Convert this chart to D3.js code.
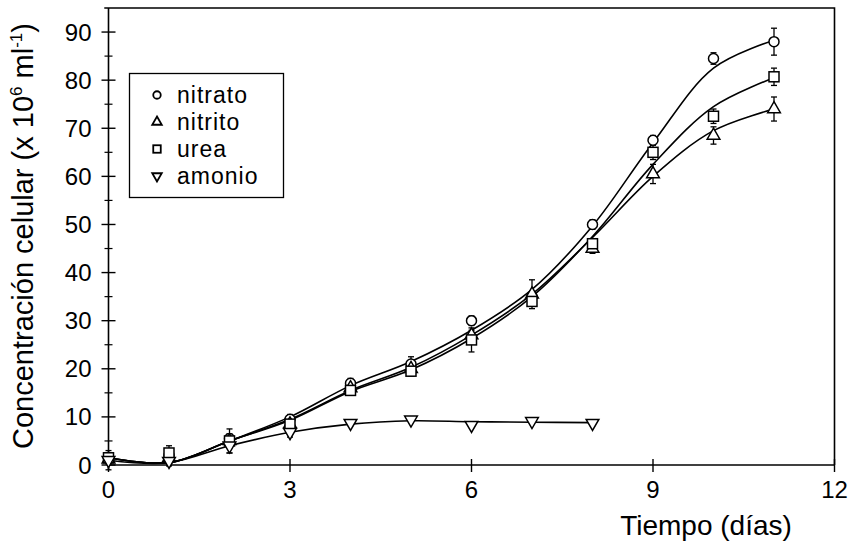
<!DOCTYPE html>
<html>
<head>
<meta charset="utf-8">
<script src="https://cdn.jsdelivr.net/npm/d3@7"></script>
<style>
body { margin: 0; background: #fff; }
svg { font-family: "Liberation Sans", Arial, sans-serif; }
</style>
</head>
<body>
<script>
// datos
let days = [0, 1, 2, 3, 4, 5, 6, 7, 8, 9, 10, 11];
let nitrato = [1.5, 2, 5.5, 9.5, 17, 21, 30, 35, 50, 67.5, 84.5, 88];
let nitrito = [1.2, 1.5, 5, 8.5, 16, 20, 27, 35.5, 45, 60.5, 68.5, 74];
let urea = [1.5, 2.5, 5, 8.5, 15.5, 19.5, 26, 34, 46, 65, 72.5, 80.7];
let amonioDays = [0, 1, 2, 3, 4, 5, 6, 7, 8];
let amonio = [1, 0.8, 4, 6.8, 8.7, 9.4, 8.3, 9.1, 8.7];

let nitratoErr = [1, 1, 1, 1, 1, 1.5, 1, 1, 1, 1, 1.2, 2.8];
let nitritoErr = [1, 1, 2.5, 1, 1, 1, 1, 3, 1, 2, 1.8, 2.5];
let ureaErr = [1, 1.5, 1, 1, 1, 1, 2.5, 1, 1, 1.5, 1.5, 1.8];
let amonioErr = [2, 1, 1.5, 1, 0.5, 0.5, 0.5, 0.5, 0.5];

let nitratoFit = [1.5, 0.5, 5, 10, 16.5, 21.5, 28, 36.5, 49.7, 67, 82.5, 88.3];
let nitritoFit = [1.5, 0.5, 5, 9.5, 15.5, 20.3, 27, 35.5, 47.3, 60, 69.5, 74];
let ureaFit = [1.5, 0.5, 5, 9.3, 15.3, 19.8, 26.3, 35, 47.5, 62.5, 74.5, 80.5];
let amonioFit = [1, 0.5, 4, 6.8, 8.5, 9.2, 9, 8.9, 8.8];

let xTicks = [0, 3, 6, 9, 12];
let yTicks = [0, 10, 20, 30, 40, 50, 60, 70, 80, 90];
let yMinor = [5, 15, 25, 35, 45, 55, 65, 75, 85];

let seriesNames = ['nitrato', 'nitrito', 'urea', 'amonio'];

const width = 855, height = 545;
const svg = d3.select('body').append('svg').attr('width', width).attr('height', height);

const x = d3.scaleLinear().domain([0, 12]).range([108.5, 834.5]);
const y = d3.scaleLinear().domain([0, 95]).range([465, 8]);

// marco
svg.append('path')
	.attr('d', 'M' + x(-0.07) + ',' + y(95) + 'H' + x(12) + 'V' + y(0))
	.attr('fill', 'none').attr('stroke', '#000').attr('stroke-width', 1.6);

// ejes
const yAxis = svg.append('g').attr('transform', 'translate(' + x(0) + ',0)');
yAxis.append('line').attr('y1', y(0) + 5).attr('y2', y(95)).attr('stroke', '#000').attr('stroke-width', 1.6);
yAxis.selectAll('.maj').data(yTicks).enter().append('line')
	.attr('x1', -7).attr('x2', 7).attr('y1', d => y(d)).attr('y2', d => y(d))
	.attr('stroke', '#000').attr('stroke-width', 1.4);
yAxis.selectAll('.min').data(yMinor).enter().append('line')
	.attr('x1', -4).attr('x2', 4).attr('y1', d => y(d)).attr('y2', d => y(d))
	.attr('stroke', '#000').attr('stroke-width', 1.2);
yAxis.selectAll('text').data(yTicks).enter().append('text')
	.attr('x', -17).attr('y', d => y(d) + 8.5).attr('text-anchor', 'end')
	.attr('font-size', 24).text(d => d);

const xAxis = svg.append('g').attr('transform', 'translate(0,' + y(0) + ')');
xAxis.append('line').attr('x1', x(0)).attr('x2', x(12)).attr('stroke', '#000').attr('stroke-width', 1.6);
xAxis.selectAll('.tk').data(xTicks).enter().append('line')
	.attr('x1', d => x(d)).attr('x2', d => x(d)).attr('y1', -6).attr('y2', 7)
	.attr('stroke', '#000').attr('stroke-width', 1.4);
xAxis.selectAll('text').data(xTicks).enter().append('text')
	.attr('x', d => x(d)).attr('y', 33).attr('text-anchor', 'middle')
	.attr('font-size', 24).text(d => d);

// títulos
svg.append('text').attr('x', 706).attr('y', 535).attr('text-anchor', 'middle')
	.attr('font-size', 28).text('Tiempo (días)');
const yl = svg.append('text').attr('transform', 'translate(33,236) rotate(-90)')
	.attr('text-anchor', 'middle').attr('font-size', 29);
yl.append('tspan').text('Concentración celular (x 10');
yl.append('tspan').attr('font-size', 17).attr('dy', -11).text('6');
yl.append('tspan').attr('dy', 11).text(' ml');
yl.append('tspan').attr('font-size', 17).attr('dy', -11).text('-1');
yl.append('tspan').attr('dy', 11).text(')');

let series = [
	{ name: 'nitrato', xs: days, ys: nitrato, err: nitratoErr, fit: nitratoFit, sym: 'circle' },
	{ name: 'nitrito', xs: days, ys: nitrito, err: nitritoErr, fit: nitritoFit, sym: 'up' },
	{ name: 'urea', xs: days, ys: urea, err: ureaErr, fit: ureaFit, sym: 'square' },
	{ name: 'amonio', xs: amonioDays, ys: amonio, err: amonioErr, fit: amonioFit, sym: 'down' }
];

// curvas
const line = d3.line().x(d => x(d[0])).y(d => y(d[1])).curve(d3.curveCatmullRom.alpha(0.5));
series.forEach(s => {
	svg.append('path').attr('d', line(s.xs.map((d, i) => [d, s.fit[i]])))
		.attr('fill', 'none').attr('stroke', '#000').attr('stroke-width', 1.6);
});

// barras de error
series.forEach(s => {
	let g = svg.append('g').attr('stroke', '#000').attr('stroke-width', 1.3);
	s.xs.forEach((d, i) => {
		let cx = x(d), y1 = y(s.ys[i] + s.err[i]), y2 = y(s.ys[i] - s.err[i]);
		g.append('line').attr('x1', cx).attr('x2', cx).attr('y1', y1).attr('y2', y2);
		g.append('line').attr('x1', cx - 3).attr('x2', cx + 3).attr('y1', y1).attr('y2', y1);
		g.append('line').attr('x1', cx - 3).attr('x2', cx + 3).attr('y1', y2).attr('y2', y2);
	});
});

const drawSym = (g, sym, cx, cy, s) => {
	if (sym === 'circle') {
		g.append('circle').attr('cx', cx).attr('cy', cy).attr('r', 5 * s);
	} else if (sym === 'square') {
		g.append('rect').attr('x', cx - 5 * s).attr('y', cy - 5 * s).attr('width', 10 * s).attr('height', 10 * s);
	} else {
		let t = d3.symbol().type(d3.symbolTriangle).size(70 * s * s);
		g.append('path').attr('d', t())
			.attr('transform', 'translate(' + cx + ',' + cy + ')' + (sym === 'down' ? ' rotate(180)' : ''));
	}
};

// marcadores
series.forEach(s => {
	let g = svg.append('g').attr('fill', '#fff').attr('stroke', '#000').attr('stroke-width', 1.5);
	s.xs.forEach((d, i) => drawSym(g, s.sym, x(d), y(s.ys[i]), 1));
});

// leyenda
const lg = svg.append('g');
lg.append('rect').attr('x', 129.5).attr('y', 73.5).attr('width', 154).attr('height', 124)
	.attr('fill', '#fff').attr('stroke', '#000').attr('stroke-width', 1.3);
series.forEach((s, i) => {
	let cy = 95 + i * 27;
	let g = lg.append('g').attr('fill', '#fff').attr('stroke', '#000').attr('stroke-width', 1.8);
	drawSym(g, s.sym, 157, cy, 0.75);
	lg.append('text').attr('x', 177).attr('y', cy + 8).attr('font-size', 23)
		.attr('letter-spacing', 1).text(seriesNames[i]);
});
</script>
</body>
</html>
